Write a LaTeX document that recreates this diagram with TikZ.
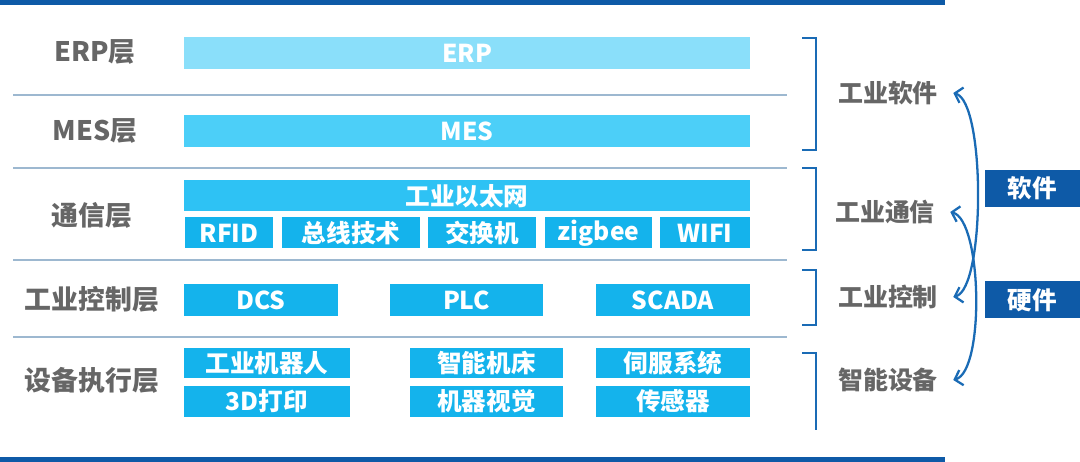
\documentclass[tikz,border=0pt]{standalone}
\usepackage{fontspec}
\setmainfont{Noto Sans CJK SC}
\usetikzlibrary{arrows.meta}
\definecolor{barblue}{HTML}{0E5AA7}
\definecolor{lineblue}{HTML}{1A6BB5}
\definecolor{sepgray}{HTML}{9DB8D0}
\definecolor{erpfill}{HTML}{8ADFFA}
\definecolor{mesfill}{HTML}{4CCFF8}
\definecolor{netfill}{HTML}{2EC2F4}
\definecolor{cellfill}{HTML}{14B3EC}
\definecolor{labgray}{HTML}{666666}
\begin{document}
\begin{tikzpicture}
  [x=0.02cm,y=-0.02cm,
   every node/.style={inner sep=0pt,font=\bfseries},
   cell/.style={rectangle,fill=cellfill,text=white,font=\bfseries\fontsize{14}{16}\selectfont},
   layer/.style={text=labgray,font=\bfseries\fontsize{15.3}{18}\selectfont},
   group/.style={text=labgray,font=\bfseries\fontsize{14.2}{17}\selectfont},
   side/.style={rectangle,fill=barblue,text=white,minimum width=95*0.02cm,minimum height=37*0.02cm,font=\bfseries\fontsize{14}{16}\selectfont},
   sep/.style={sepgray,line width=0.6pt},
   bracket/.style={lineblue,line width=1.4pt},
   span/.style={lineblue,line width=1.3pt,{Straight Barb[length=4pt,width=9pt]}-{Straight Barb[length=4pt,width=9pt]}}]

  \useasboundingbox (0,0) rectangle (1080,462);

  % top and bottom bars
  \fill[barblue] (0,0) rectangle (945,5);
  \fill[barblue] (0,457) rectangle (945,462);

  % layer separators
  \foreach \y in {95,168,260,337}
    \draw[sep] (13,\y) -- (787,\y);

  % layer names
  \node[layer] (erpL) at (95,52) {ERP层};
  \node[layer] (mesL) at (95,131) {MES层};
  \node[layer] (comL) at (92,215) {通信层};
  \node[layer] (ctlL) at (92,299) {工业控制层};
  \node[layer] (devL) at (92,380) {设备执行层};

  % wide boxes
  \node[cell,fill=erpfill,minimum width=566*0.02cm,minimum height=32*0.02cm] (erp) at (467,53) {ERP};
  \node[cell,fill=mesfill,minimum width=566*0.02cm,minimum height=32*0.02cm] (mes) at (467,131) {MES};
  \node[cell,fill=netfill,minimum width=566*0.02cm,minimum height=31*0.02cm] (eth) at (467,196) {工业以太网};

  % small boxes
  \foreach \name/\x/\y/\w/\h/\txt in {
      rfid/229/233/88/31/RFID, bus/351/233/138/31/总线技术, sw/482/233/108/31/交换机,
      zig/598.5/233/107/31/zigbee, wifi/705/233/90/31/WIFI,
      dcs/261/300/154/32/DCS, plc/466.5/300/153/32/PLC, scada/673/300/154/32/SCADA,
      robot/267/363/166/30/工业机器人, cnc/486.5/363/153/30/智能机床, servo/673/363/154/30/伺服系统,
      print/267/401.5/166/31/3D打印, vision/486.5/401.5/153/31/机器视觉, sensor/673/401.5/154/31/传感器}
    \node[cell,minimum width=\w*0.02cm,minimum height=\h*0.02cm] (\name) at (\x,\y) {\txt};

  % brackets
  \draw[bracket] (802,38) -- (816,38) -- (816,150) -- (802,150);
  \draw[bracket] (802,168) -- (816,168) -- (816,250) -- (802,250);
  \draw[bracket] (802,270) -- (816,270) -- (816,325) -- (802,325);
  \draw[bracket] (802,353) -- (816,353) -- (816,430);

  % group names
  \node[group] (soft) at (888,93) {工业软件};
  \node[group] (comm) at (885,212) {工业通信};
  \node[group] (ctrl) at (888,297) {工业控制};
  \node[group] (smart) at (888,380) {智能设备};

  % spans
  \draw[span] ([xshift=0.3cm]soft.east) to[bend left=75,looseness=0.42] ([xshift=0.3cm]ctrl.east);
  \draw[span] ([xshift=0.3cm]comm.east) to[bend left=75,looseness=0.5] ([xshift=0.3cm]smart.east);

  % side boxes
  \node[side] (sw2) at (1032.5,188.5) {软件};
  \node[side] (hw) at (1032.5,300) {硬件};
\end{tikzpicture}
\end{document}
